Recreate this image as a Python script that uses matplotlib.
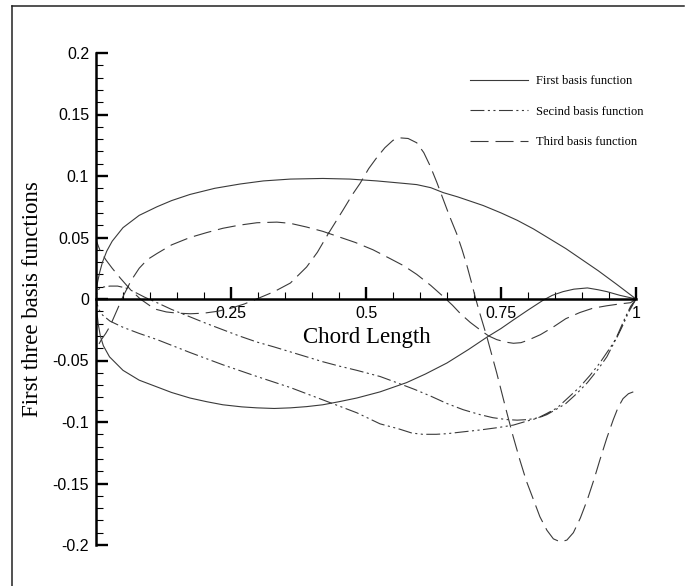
import numpy as np
import matplotlib
matplotlib.use("Agg")
import matplotlib.pyplot as plt
from matplotlib.lines import Line2D
from matplotlib.ticker import MultipleLocator

plt.rcParams['lines.scale_dashes'] = False

# first basis function (solid), upper and lower surface
x1_up = [0.0, 0.001, 0.003, 0.007, 0.012, 0.02, 0.03, 0.05, 0.08, 0.113, 0.14, 0.174, 0.22, 0.267,
         0.31, 0.36, 0.42, 0.47, 0.52, 0.57, 0.594, 0.62, 0.643, 0.67, 0.717, 0.75, 0.78, 0.81,
         0.84, 0.87, 0.90, 0.93, 0.964, 1.0]
y1_up = [0.0, 0.008, 0.014, 0.022, 0.030, 0.039, 0.047, 0.058, 0.068, 0.075, 0.080, 0.085, 0.090, 0.0935,
         0.096, 0.0975, 0.098, 0.0975, 0.096, 0.094, 0.093, 0.0905, 0.0865, 0.083, 0.076, 0.070, 0.064, 0.057,
         0.049, 0.041, 0.032, 0.023, 0.012, 0.0]
x1_lo = [0.0, 0.001, 0.004, 0.008, 0.0136, 0.025, 0.05, 0.08, 0.113, 0.14, 0.174, 0.205, 0.235, 0.27,
         0.298, 0.33, 0.36, 0.39, 0.42, 0.45, 0.483, 0.526, 0.575, 0.61, 0.65, 0.69, 0.724, 0.75,
         0.773, 0.80, 0.828, 0.845, 0.865, 0.885, 0.91, 0.93, 0.946, 0.97, 1.0]
y1_lo = [0.0, -0.008, -0.02, -0.03, -0.038, -0.047, -0.058, -0.066, -0.0715, -0.076, -0.0805, -0.0835, -0.086, -0.0877,
         -0.0885, -0.089, -0.0885, -0.0875, -0.086, -0.0835, -0.0805, -0.0755, -0.068, -0.061, -0.052, -0.041, -0.031, -0.024,
         -0.017, -0.009, -0.001, 0.003, 0.006, 0.008, 0.009, 0.0075, 0.006, 0.003, 0.0]

# second basis function (dash-dot-dot)
x2_up = [0.0, 0.001, 0.004, 0.01, 0.026, 0.04, 0.055, 0.07, 0.09, 0.113, 0.14, 0.174, 0.205, 0.235,
         0.265, 0.298, 0.33, 0.36, 0.39, 0.42, 0.45, 0.483, 0.526, 0.56, 0.59, 0.62, 0.65, 0.68,
         0.711, 0.735, 0.76, 0.78, 0.80, 0.82, 0.835, 0.855, 0.87, 0.89, 0.91, 0.93, 0.946, 0.96,
         0.97, 0.98, 0.99, 1.0]
y2_up = [0.0, 0.004, 0.0075, 0.0095, 0.0105, 0.0105, 0.009, 0.006, 0.0015, -0.003, -0.0085, -0.0145, -0.02, -0.025,
         -0.030, -0.035, -0.039, -0.043, -0.047, -0.051, -0.0545, -0.058, -0.063, -0.0685, -0.0735, -0.079, -0.085, -0.090,
         -0.094, -0.0965, -0.098, -0.0985, -0.098, -0.0965, -0.094, -0.089, -0.085, -0.077, -0.068, -0.057, -0.047, -0.035,
         -0.025, -0.015, -0.006, 0.0]
x2_lo = [0.0, 0.002, 0.006, 0.012, 0.026, 0.05, 0.08, 0.113, 0.174, 0.235, 0.298, 0.36, 0.42, 0.483,
         0.526, 0.56, 0.585, 0.605, 0.63, 0.65, 0.68, 0.711, 0.745, 0.773, 0.80, 0.817, 0.835, 0.854,
         0.875, 0.896, 0.915, 0.933, 0.95, 0.965, 0.976, 0.986, 1.0]
y2_lo = [0.0, -0.004, -0.009, -0.013, -0.018, -0.023, -0.028, -0.033, -0.0435, -0.0535, -0.063, -0.072, -0.082, -0.0925,
         -0.1015, -0.1055, -0.109, -0.110, -0.110, -0.1095, -0.108, -0.1065, -0.1045, -0.1025, -0.099, -0.097, -0.093, -0.0885,
         -0.080, -0.0715, -0.062, -0.052, -0.041, -0.031, -0.021, -0.011, 0.0]

# third basis function (dashed)
x3_up = [0.0, 0.007, 0.018, 0.03, 0.045, 0.063, 0.082, 0.1, 0.112, 0.13, 0.15, 0.175, 0.2, 0.225,
         0.25, 0.275, 0.2975, 0.33, 0.36, 0.39, 0.41, 0.43, 0.457, 0.475, 0.489, 0.505, 0.52, 0.535,
         0.55, 0.563, 0.578, 0.594, 0.607, 0.619, 0.631, 0.643, 0.655, 0.668, 0.678, 0.687, 0.695,
         0.702, 0.711, 0.724, 0.742, 0.76, 0.772, 0.785, 0.797, 0.81, 0.822, 0.835, 0.847, 0.86,
         0.872, 0.884, 0.897, 0.91, 0.922, 0.933, 0.946, 0.958, 0.967, 0.976, 0.986, 0.995]
y3_up = [0.048, 0.040, 0.032, 0.025, 0.017, 0.008, 0.0, -0.0055, -0.0085, -0.0105, -0.0115, -0.012, -0.0115, -0.010,
         -0.0075, -0.004, 0.0, 0.006, 0.013, 0.026, 0.038, 0.053, 0.072, 0.085, 0.094, 0.106, 0.115, 0.123,
         0.129, 0.131, 0.1305, 0.127, 0.119, 0.108, 0.095, 0.081, 0.067, 0.053, 0.040, 0.027, 0.014,
         0.002, -0.012, -0.031, -0.060, -0.091, -0.111, -0.131, -0.148, -0.163, -0.177, -0.188, -0.195, -0.1975,
         -0.196, -0.190, -0.178, -0.163, -0.147, -0.131, -0.113, -0.098, -0.088, -0.081, -0.077, -0.0755]
x3_lo = [0.0, 0.005, 0.01, 0.018, 0.026, 0.038, 0.05, 0.065, 0.08, 0.095, 0.113, 0.14, 0.174, 0.205,
         0.235, 0.265, 0.298, 0.335, 0.36, 0.39, 0.42, 0.45, 0.48, 0.513, 0.544, 0.57, 0.594, 0.62,
         0.643, 0.66, 0.675, 0.693, 0.711, 0.727, 0.742, 0.758, 0.773, 0.787, 0.80, 0.823, 0.846,
         0.87, 0.896, 0.92, 0.946, 0.97, 0.99, 1.0]
y3_lo = [-0.04, -0.037, -0.033, -0.028, -0.022, -0.01, 0.002, 0.015, 0.025, 0.032, 0.037, 0.044, 0.050, 0.054,
         0.0575, 0.060, 0.062, 0.0625, 0.0615, 0.0585, 0.055, 0.0505, 0.046, 0.040, 0.033, 0.027, 0.020, 0.011,
         0.002, -0.005, -0.012, -0.019, -0.025, -0.030, -0.033, -0.035, -0.036, -0.0355, -0.0335, -0.029, -0.023,
         -0.016, -0.011, -0.0075, -0.0055, -0.004, -0.003, 0.0]

labels = ['First basis function', 'Secind basis function', 'Third basis function']
x_ticks = [0.25, 0.5, 0.75, 1.0]
x_ticklabels = ['0.25', '0.5', '0.75', '1']
y_ticks = [-0.2, -0.15, -0.1, -0.05, 0, 0.05, 0.1, 0.15, 0.2]
y_ticklabels = ['-0.2', '-0.15', '-0.1', '-0.05', '0', '0.05', '0.1', '0.15', '0.2']

fig = plt.figure(figsize=(6.88, 5.86), dpi=100)
ax = fig.add_axes([96 / 688, 41 / 586, 540 / 688, 492 / 586])

styles = ['-', (0, (10, 2.5, 1.5, 2.5, 1.5, 2.5)), (0, (13, 5))]
curves = [(x1_up, y1_up, x1_lo, y1_lo), (x2_up, y2_up, x2_lo, y2_lo), (x3_up, y3_up, x3_lo, y3_lo)]
for (xu, yu, xl, yl), ls, lab in zip(curves, styles, labels):
    # walk the upper surface from trailing edge to nose, then the lower one back
    xs = list(xu[::-1]) + list(xl)
    ys = list(yu[::-1]) + list(yl)
    ax.plot(xs, ys, color='#3a3a3a', lw=0.8, linestyle=ls, label=lab)

ax.set_xlim(0, 1)
ax.set_ylim(-0.2, 0.2)
for s in ['top', 'right']:
    ax.spines[s].set_visible(False)
ax.spines['bottom'].set_position(('data', 0))
ax.spines['left'].set_linewidth(1.8)
ax.spines['bottom'].set_linewidth(1.8)

ax.set_xticks(x_ticks)
ax.set_xticklabels(x_ticklabels)
ax.set_yticks(y_ticks)
ax.set_yticklabels(y_ticklabels)
ax.xaxis.set_minor_locator(MultipleLocator(0.05))
ax.yaxis.set_minor_locator(MultipleLocator(0.01))
ax.tick_params(which='major', direction='in', length=8.6, width=1.7, labelsize=11.5, pad=5)
ax.tick_params(which='minor', direction='in', length=5, width=0.8)
for t in ax.get_xticklabels() + ax.get_yticklabels():
    t.set_family('Liberation Sans')

ax.set_xlabel('Chord Length', family='Liberation Serif', fontsize=16.5)
ax.xaxis.set_label_coords(0.502, 0.421)
ax.xaxis.label.set_va('center')
ax.set_ylabel('First three basis functions', family='Liberation Serif', fontsize=16.5)
ax.yaxis.set_label_coords(-0.1185, 0.5)
ax.yaxis.label.set_va('center')

ax.legend(loc='upper left', bbox_to_anchor=(0.6926, 0.955), frameon=False, borderpad=0,
          borderaxespad=0, handlelength=4.6, handletextpad=0.7, labelspacing=1.47,
          prop={'family': 'Liberation Serif', 'size': 9})

# outer frame (left and top edges visible)
fig.add_artist(Line2D([12 / 688, 12 / 688], [0, 1 - 6 / 586], color='#222222', lw=1.1))
fig.add_artist(Line2D([12 / 688, 684 / 688], [1 - 6 / 586, 1 - 6 / 586], color='#222222', lw=1.1))

fig.savefig('out.png', dpi=100)
